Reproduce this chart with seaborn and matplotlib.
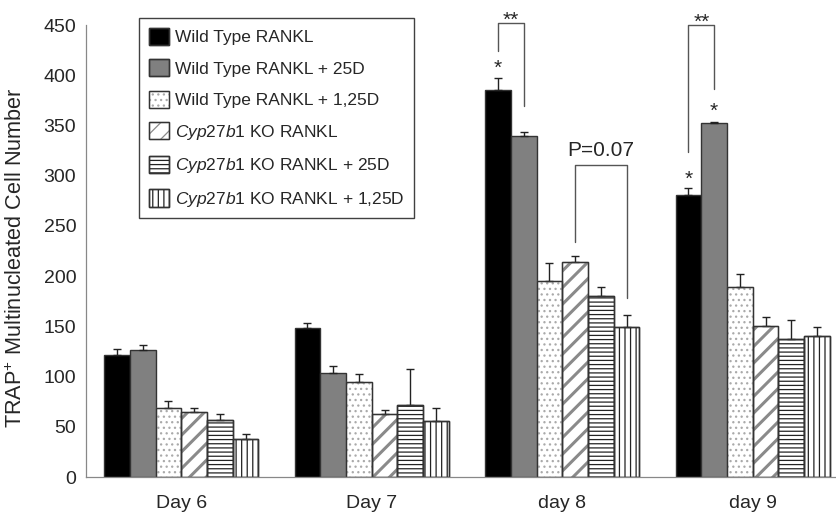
import matplotlib
matplotlib.use("Agg")
import matplotlib.pyplot as plt
from matplotlib.patches import Patch, Rectangle
import numpy as np
import pandas as pd
import seaborn as sns

# ---------------- data ----------------
days = ["Day 6", "Day 7", "day 8", "day 9"]
groups = ["Wild Type RANKL", "Wild Type RANKL + 25D", "Wild Type RANKL + 1,25D",
          "Cyp27b1 KO RANKL", "Cyp27b1 KO RANKL + 25D", "Cyp27b1 KO RANKL + 1,25D"]
legend_labels = ["Wild Type RANKL", "Wild Type RANKL + 25D", "Wild Type RANKL + 1,25D",
                 r"$\mathit{Cyp27b1}$ KO RANKL", r"$\mathit{Cyp27b1}$ KO RANKL + 25D",
                 r"$\mathit{Cyp27b1}$ KO RANKL + 1,25D"]

wt_rankl = [121, 148, 385, 281]
wt_rankl_err = [6, 5, 12, 7]
wt_25d = [126, 104, 339, 352]
wt_25d_err = [5, 7, 4, 1]
wt_125d = [69, 95, 195, 189]
wt_125d_err = [7, 8, 18, 13]
ko_rankl = [65, 63, 214, 150]
ko_rankl_err = [4, 4, 6, 9]
ko_25d = [57, 72, 180, 137]
ko_25d_err = [6, 36, 9, 19]
ko_125d = [38, 56, 149, 140]
ko_125d_err = [5, 13, 12, 9]

series = [wt_rankl, wt_25d, wt_125d, ko_rankl, ko_25d, ko_125d]
errors = [wt_rankl_err, wt_25d_err, wt_125d_err, ko_rankl_err, ko_25d_err, ko_125d_err]

y_ticks = [0, 50, 100, 150, 200, 250, 300, 350, 400, 450]

# ---------------- styles ----------------
face_colors = ["#000000", "#808080", "#ffffff", "#ffffff", "#ffffff", "#ffffff"]
hatches = [None, None, "...", "//", "----", "|||"]
hatch_colors = ["#111111", "#333333", "#aaaaaa", "#8a8a8a", "#222222", "#222222"]
hatch_lws = [0.8, 0.8, 0.9, 2.2, 0.9, 0.9]
edge_color = "#333333"

sns.set_style("white")
plt.rcParams["font.family"] = ["Liberation Sans", "DejaVu Sans"]
plt.rcParams["mathtext.fontset"] = "custom"
plt.rcParams["mathtext.rm"] = "Liberation Sans"
plt.rcParams["mathtext.it"] = "Liberation Sans:italic"
plt.rcParams["hatch.linewidth"] = 0.9

rows = []
for g, vals in zip(groups, series):
    for d, v in zip(days, vals):
        rows.append({"day": d, "group": g, "value": v})
df = pd.DataFrame(rows)

fig = plt.figure(figsize=(8.36, 5.14), dpi=100)
ax = fig.add_axes([86 / 836, 1 - 477 / 514, 762 / 836, 452 / 514])

sns.barplot(data=df, x="day", y="value", hue="group", order=days, hue_order=groups,
            palette=dict(zip(groups, face_colors)), width=0.81, errorbar=None,
            edgecolor=edge_color, linewidth=1.0, legend=False, ax=ax)


def set_hatch_lw(p, lw):
    try:
        p.set_hatch_linewidth(lw)
    except AttributeError:
        p._hatch_linewidth = lw


bar_conts = list(ax.containers)
for i, cont in enumerate(bar_conts):
    for p in cont.patches:
        p.set_facecolor(face_colors[i])
        if hatches[i]:
            p.set_hatch(hatches[i])
            p.set_edgecolor(hatch_colors[i])
            set_hatch_lw(p, hatch_lws[i])
            # dark outline on top of the hatched bar
            ax.add_patch(Rectangle(p.get_xy(), p.get_width(), p.get_height(),
                                   fill=False, edgecolor=edge_color, linewidth=1.0, zorder=p.get_zorder() + 0.1))
    xs = [p.get_x() + p.get_width() / 2 for p in cont.patches]
    hs = [p.get_height() for p in cont.patches]
    ax.errorbar(xs, hs, yerr=[np.zeros(len(hs)), errors[i]], fmt="none",
                ecolor="#222222", elinewidth=1.0, capsize=3.2, capthick=1.0, zorder=1)

ax.set_ylim(0, 450)
ax.set_yticks(y_ticks)
ax.set_xlim(-0.5, 3.5)
ax.set_xticks([0.5, 1.5, 2.5, 3.5])
ax.set_xticklabels([])
ax.set_xticks(range(len(days)), minor=True)
ax.set_xticklabels(days, minor=True)
ax.tick_params(axis="x", which="minor", length=0, pad=13, labelsize=14)
ax.tick_params(axis="x", which="major", length=4, width=0.8, color="#888888", direction="out")
ax.tick_params(axis="y", length=4, width=0.8, color="#888888", direction="out", pad=3, labelsize=14)
ax.set_xlabel("")
ax.set_ylabel(r"TRAP$^{+}$ Multinucleated Cell Number", fontsize=15.6)
ax.yaxis.set_label_coords(-0.077, 0.486)
for s in ["top", "right"]:
    ax.spines[s].set_visible(False)
for s in ["left", "bottom"]:
    ax.spines[s].set_color("#888888")
    ax.spines[s].set_linewidth(0.9)

# ---------------- annotations ----------------
def center(gi, di):
    p = bar_conts[gi].patches[di]
    return p.get_x() + p.get_width() / 2

def top(gi, di):
    return series[gi][di] + errors[gi][di]

def bracket(gi1, gi2, di, ytop, gap1, gap2, label, size, ty, va):
    x1, x2 = center(gi1, di), center(gi2, di)
    ax.plot([x1, x1, x2, x2], [top(gi1, di) + gap1, ytop, ytop, top(gi2, di) + gap2],
            color="#555555", lw=1.0, clip_on=False, zorder=3)
    ax.text((x1 + x2) / 2, ty, label, ha="center", va=va, fontsize=size, clip_on=False)

bracket(0, 1, 2, 452, 27, 26, "**", 15, 445, "bottom")
bracket(0, 1, 3, 450, 36, 33, "**", 15, 443, "bottom")
bracket(3, 5, 2, 311, 14, 17, "P=0.07", 15, 320, "baseline")

for gi, di, off in [(0, 2, 0), (0, 3, -1), (1, 3, 2)]:
    ax.text(center(gi, di), top(gi, di) + off, "*", ha="center", va="bottom", fontsize=15)

# ---------------- legend ----------------
handles = []
for i in range(len(groups)):
    h1 = Patch(facecolor=face_colors[i], edgecolor=hatch_colors[i] if hatches[i] else edge_color,
               hatch=hatches[i], linewidth=1.0)
    if hatches[i]:
        set_hatch_lw(h1, hatch_lws[i])
    h2 = Patch(fill=False, edgecolor=edge_color, linewidth=1.0)
    handles.append((h1, h2))
leg = ax.legend(handles, legend_labels, loc="upper left",
                bbox_to_anchor=(139 / 836, 1 - 18 / 514), bbox_transform=fig.transFigure,
                borderaxespad=0, fontsize=12.5, frameon=True, fancybox=False,
                handlelength=1.15, handleheight=1.15, labelspacing=0.81,
                handletextpad=0.4, borderpad=0.55)
leg.get_frame().set_edgecolor("#111111")
leg.get_frame().set_linewidth(1.0)

fig.savefig("out.png", dpi=100)
